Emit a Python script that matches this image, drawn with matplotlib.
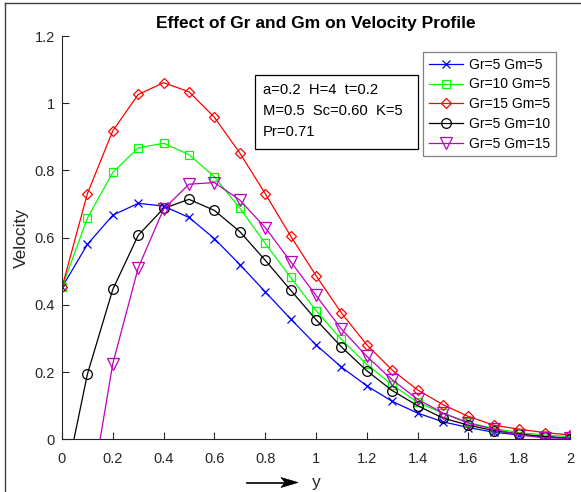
import matplotlib
matplotlib.use('Agg')
import matplotlib.pyplot as plt
from matplotlib.lines import Line2D
from matplotlib.patches import Polygon, Rectangle
import numpy as np

plt.rcParams['font.family'] = ['Liberation Sans', 'DejaVu Sans']

# ── Data ───────────────────────────────────────────────────────────────
y = np.round(np.arange(0, 2.01, 0.1), 1)

u_gr5_gm5 = [0.452, 0.580, 0.667, 0.702, 0.694, 0.660, 0.597, 0.520, 0.439, 0.358, 0.281,
             0.215, 0.159, 0.113, 0.078, 0.052, 0.035, 0.021, 0.013, 0.008, 0.004]
u_gr10_gm5 = [0.452, 0.658, 0.794, 0.867, 0.881, 0.847, 0.781, 0.688, 0.583, 0.482, 0.383,
              0.297, 0.223, 0.162, 0.110, 0.078, 0.050, 0.032, 0.020, 0.013, 0.008]
u_gr15_gm5 = [0.452, 0.731, 0.918, 1.026, 1.061, 1.034, 0.958, 0.852, 0.731, 0.605, 0.487,
              0.376, 0.281, 0.206, 0.147, 0.103, 0.068, 0.042, 0.030, 0.020, 0.013]
u_gr5_gm10 = [-0.172, 0.194, 0.446, 0.607, 0.687, 0.714, 0.681, 0.618, 0.533, 0.444, 0.356,
              0.275, 0.204, 0.145, 0.100, 0.063, 0.042, 0.026, 0.016, 0.008, 0.002]
u_gr5_gm15 = [-0.60, -0.225, 0.225, 0.510, 0.685, 0.759, 0.764, 0.712, 0.630, 0.529, 0.428,
              0.328, 0.247, 0.177, 0.119, 0.078, 0.048, 0.030, 0.013, 0.004, 0.003]

series = [
    ("Gr=5 Gm=5", u_gr5_gm5, 'b', 'x', 6),
    ("Gr=10 Gm=5", u_gr10_gm5, '#00ff00', 's', 6),
    ("Gr=15 Gm=5", u_gr15_gm5, 'r', 'D', 5.5),
    ("Gr=5 Gm=10", u_gr5_gm10, 'k', 'o', 7),
    ("Gr=5 Gm=15", u_gr5_gm15, 'm', 'v', 8),
]

params = "a=0.2  H=4  t=0.2\nM=0.5  Sc=0.60  K=5\nPr=0.71"

# ── Figure ─────────────────────────────────────────────────────────────
W, H = 581, 492
fig = plt.figure(figsize=(W / 100, H / 100), dpi=100)
ax = fig.add_axes([62 / W, 1 - 439.3 / H, (570 - 62) / W, (439.3 - 36) / H])

for label, vals, col, mk, ms in series:
    ax.plot(y, vals, color=col, marker=mk, markersize=ms, markerfacecolor='none',
            markeredgecolor=col, linewidth=0.9, markeredgewidth=0.9, label=label)

ax.set_xlim(0, 2)
ax.set_ylim(0, 1.2)
ax.set_xticks(np.arange(0, 2.01, 0.2))
ax.set_xticklabels(['0', '0.2', '0.4', '0.6', '0.8', '1', '1.2', '1.4', '1.6', '1.8', '2'])
ax.set_yticks(np.arange(0, 1.21, 0.2))
ax.set_yticklabels(['0', '0.2', '0.4', '0.6', '0.8', '1', '1.2'])
ax.spines['top'].set_visible(False)
ax.spines['right'].set_visible(False)
for s in ('left', 'bottom'):
    ax.spines[s].set_color('#262626')
    ax.spines[s].set_linewidth(0.8)
ax.tick_params(direction='in', length=5, width=0.8, colors='#262626', labelsize=10.5, pad=5)
ax.tick_params(axis='x', pad=9)

ax.set_title("Effect of Gr and Gm on Velocity Profile", fontsize=12.5, fontweight='bold', pad=6)
ax.set_ylabel("Velocity", fontsize=12.5, color='#262626', labelpad=4)

# x label with arrow
fig.text(316 / W, 1 - 482 / H, "y", fontsize=12.5, ha='center', va='center', color='#262626')
ay = 482.5
fig.add_artist(Line2D([247 / W, 290 / W], [1 - ay / H, 1 - ay / H], transform=fig.transFigure,
                      color='black', linewidth=1.2))
head = [(298, ay), (281, ay - 5), (285, ay), (281, ay + 5)]
fig.add_artist(Polygon([(px / W, 1 - py / H) for px, py in head], closed=True,
                       transform=fig.transFigure, facecolor='black', edgecolor='black',
                       linewidth=0.5))

# parameter box
fig.add_artist(Rectangle((255 / W, 1 - 149 / H), (418 - 255) / W, (149 - 75) / H,
                         transform=fig.transFigure, facecolor='white', edgecolor='black',
                         linewidth=0.9, zorder=3))
fig.text(263 / W, 1 - 111 / H, params, fontsize=10.6, ha='left', va='center',
         linespacing=1.62, zorder=4)

leg = ax.legend(loc='upper left', bbox_to_anchor=(423 / W, 1 - 52 / H),
                bbox_transform=fig.transFigure, borderaxespad=0, fontsize=10,
                fancybox=False, framealpha=1, edgecolor='#808080', handlelength=2.5,
                labelspacing=0.42, borderpad=0.4, handletextpad=0.4)
leg.get_frame().set_linewidth(0.9)

# outer figure frame (left and top visible)
fig.add_artist(Line2D([5 / W, 5 / W], [0, 1 - 3 / H], transform=fig.transFigure,
                      color='#404040', linewidth=1))
fig.add_artist(Line2D([5 / W, 1], [1 - 3 / H, 1 - 3 / H], transform=fig.transFigure,
                      color='#404040', linewidth=1))

plt.savefig("out.png", dpi=100)
